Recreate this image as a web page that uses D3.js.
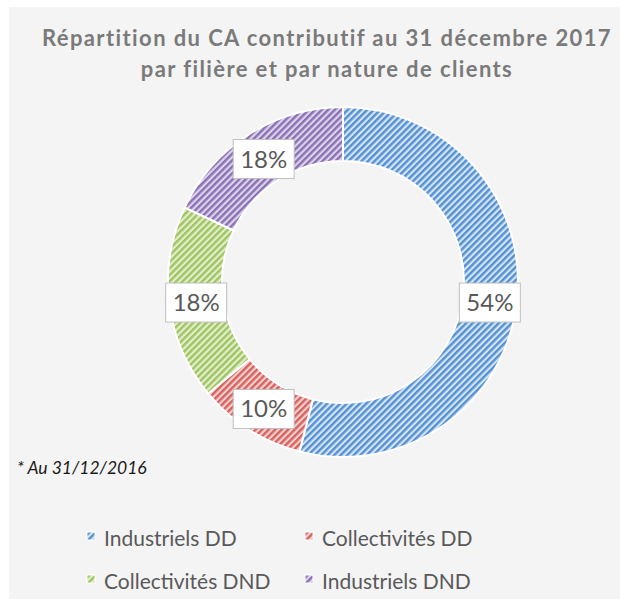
<!DOCTYPE html>
<html>
<head>
<meta charset="utf-8">
<script src="https://cdn.jsdelivr.net/npm/d3@7/dist/d3.min.js"></script>
<style>
  body { margin: 0; background: #fff; }
  svg { display: block; }
</style>
</head>
<body>
<svg id="chart" width="620" height="602"></svg>
<script>
var categories = ["Industriels DD", "Collectivités DD", "Collectivités DND", "Industriels DND"];
var values = [54, 10, 18, 18];
var valueLabels = ["54%", "10%", "18%", "18%"];
var titleLines = ["Répartition du CA contributif au 31 décembre 2017", "par filière et par nature de clients"];
var footnote = "* Au 31/12/2016";

var stripeColors = ["#5590d2", "#d6625f", "#9fc460", "#8a71b4"];
var backColors = ["#d3e5f6", "#f6d0ce", "#e2eecd", "#ddd4ec"];

var svg = d3.select("#chart");

// gray panel
svg.append("rect")
  .attr("x", 9).attr("y", 7)
  .attr("width", 611).attr("height", 592)
  .attr("fill", "#f4f4f4");

// hatch patterns
var defs = svg.append("defs");
categories.forEach(function(c, i) {
  var p = defs.append("pattern")
    .attr("id", "hatch" + i)
    .attr("patternUnits", "userSpaceOnUse")
    .attr("width", 4.6).attr("height", 4.6)
    .attr("patternTransform", "rotate(45)");
  p.append("rect").attr("width", 4.6).attr("height", 4.6).attr("fill", backColors[i]);
  p.append("rect").attr("width", 2.4).attr("height", 4.6).attr("fill", stripeColors[i]);
});

// title
svg.append("g").selectAll("text")
  .data(titleLines)
  .enter().append("text")
    .attr("x", 327)
    .attr("y", function(d, i) { return 46 + i * 31; })
    .attr("text-anchor", "middle")
    .style("font-family", "Lato, 'Open Sans', sans-serif")
    .style("font-weight", "bold")
    .style("font-size", "22px")
    .style("letter-spacing", "1.4px")
    .attr("fill", "#7a7a7a")
    .text(function(d) { return d; });

// donut
var cx = 343, cy = 282, outerR = 175, innerR = 121;

var pie = d3.pie().sort(null).value(function(d) { return d; });
var arc = d3.arc().innerRadius(innerR).outerRadius(outerR);
var labelArc = d3.arc().innerRadius(148).outerRadius(148);

var g = svg.append("g").attr("transform", "translate(" + cx + "," + cy + ")");
var arcs = pie(values);

g.selectAll("path")
  .data(arcs)
  .enter().append("path")
    .attr("d", arc)
    .attr("fill", function(d, i) { return "url(#hatch" + i + ")"; })
    .attr("stroke", "#ffffff")
    .attr("stroke-width", 2);

var lab = g.selectAll(".lab")
  .data(arcs)
  .enter().append("g")
    .attr("class", "lab")
    .attr("transform", function(d) {
      var c = labelArc.centroid(d);
      return "translate(" + c[0] + "," + (c[1] + 2) + ")";
    });

lab.append("rect")
  .attr("x", -30.5).attr("y", -19.5)
  .attr("width", 61).attr("height", 39)
  .attr("fill", "#ffffff")
  .attr("stroke", "#bfbfbf")
  .attr("stroke-width", 1);

lab.append("text")
  .attr("text-anchor", "middle")
  .attr("y", 8.5)
  .style("font-family", "Lato, 'Open Sans', sans-serif")
  .style("font-size", "24px")
  .attr("fill", "#595959")
  .text(function(d, i) { return valueLabels[i]; });

// footnote
svg.append("text")
  .attr("x", 17).attr("y", 474)
  .style("font-family", "Lato, 'Open Sans', sans-serif")
  .style("font-style", "italic")
  .style("font-size", "17.5px")
  .attr("fill", "#1a1a1a")
  .text(footnote);

// legend
var legend = svg.append("g").selectAll(".legend")
  .data(categories)
  .enter().append("g")
    .attr("class", "legend")
    .attr("transform", function(d, i) {
      return "translate(" + (87 + (i % 2) * 218) + "," + (546 + Math.floor(i / 2) * 43) + ")";
    });

legend.append("rect")
  .attr("x", 0).attr("y", -14)
  .attr("width", 8).attr("height", 8)
  .attr("fill", function(d, i) { return "url(#hatch" + i + ")"; })
  .attr("stroke", "#ffffff")
  .attr("stroke-width", 1);

legend.append("text")
  .attr("x", 17)
  .style("font-family", "Lato, 'Open Sans', sans-serif")
  .style("font-size", "21px")
  .attr("fill", "#595959")
  .text(function(d) { return d; });
</script>
</body>
</html>
